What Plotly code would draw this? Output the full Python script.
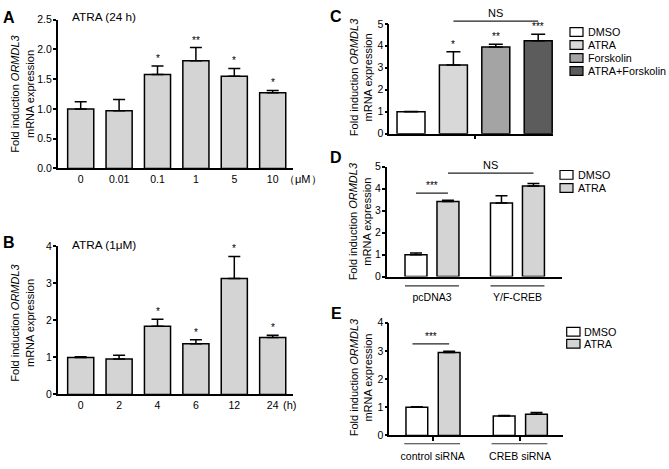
import plotly.graph_objects as go

# ---------------- data ----------------
a_cats = ["0", "0.01", "0.1", "1", "5", "10"]
a_vals = [1.00, 0.97, 1.58, 1.81, 1.55, 1.27]
a_errs = [0.12, 0.19, 0.14, 0.22, 0.13, 0.04]
a_sig = ["", "", "*", "**", "*", "*"]

b_cats = ["0", "2", "4", "6", "12", "24"]
b_vals = [1.00, 0.96, 1.84, 1.37, 3.13, 1.54]
b_errs = [0.02, 0.10, 0.19, 0.11, 0.60, 0.06]
b_sig = ["", "", "*", "*", "*", "*"]

c_names = ["DMSO", "ATRA", "Forskolin", "ATRA+Forskolin"]
c_vals = [1.00, 3.13, 3.95, 4.23]
c_errs = [0.01, 0.60, 0.12, 0.30]
c_sig = ["", "*", "**", "***"]

d_groups = ["pcDNA3", "Y/F-CREB"]
d_dmso = [1.00, 3.35]
d_dmso_err = [0.07, 0.33]
d_atra = [3.42, 4.12]
d_atra_err = [0.06, 0.12]

e_groups = ["control siRNA", "CREB siRNA"]
e_dmso = [1.00, 0.69]
e_dmso_err = [0.02, 0.02]
e_atra = [2.94, 0.75]
e_atra_err = [0.05, 0.06]

# ---------------- styles ----------------
W, H = 669, 469
FONT = "Liberation Sans, Arial, sans-serif"
INK = "black"
BAR_GREY = "#d4d4d4"
C_COLORS = ["#ffffff", "#d8d8d8", "#a4a4a4", "#5c5c5c"]
LW = 1.5


def px_x(p):
    return p / W


def px_y(p):
    return 1 - p / H


def F(size):
    return dict(family=FONT, size=size, color=INK)


def bar(x, y, err, xa, ya, color, width, offset=None, ew=6):
    return go.Bar(
        x=x, y=y, xaxis=xa, yaxis=ya, width=width, offset=offset,
        marker=dict(color=color, line=dict(color="black", width=LW)),
        error_y=dict(type="data", array=err, arrayminus=[0] * len(err),
                     symmetric=False, color="black", thickness=LW, width=ew),
        showlegend=False, hoverinfo="skip",
    )


fig = go.Figure()

# Panel A
fig.add_trace(bar(list(range(len(a_cats))), a_vals, a_errs, "x", "y", BAR_GREY, 0.68))
# Panel B
fig.add_trace(bar(list(range(len(b_cats))), b_vals, b_errs, "x2", "y2", BAR_GREY, 0.68))
# Panel C
fig.add_trace(bar(list(range(len(c_names))), c_vals, c_errs, "x3", "y3", C_COLORS, 0.66, ew=7))
# Panel D
D_W, D_OFF_DMSO, D_OFF_ATRA = 0.257, -0.316, 0.058
fig.add_trace(bar([0, 1], d_dmso, d_dmso_err, "x4", "y4", "white", D_W, D_OFF_DMSO, ew=6))
fig.add_trace(bar([0, 1], d_atra, d_atra_err, "x4", "y4", BAR_GREY, D_W, D_OFF_ATRA, ew=6))
# Panel E
E_W, E_OFF_DMSO, E_OFF_ATRA = 0.249, -0.306, 0.064
fig.add_trace(bar([0, 1], e_dmso, e_dmso_err, "x5", "y5", "white", E_W, E_OFF_DMSO, ew=6))
fig.add_trace(bar([0, 1], e_atra, e_atra_err, "x5", "y5", BAR_GREY, E_W, E_OFF_ATRA, ew=6))

axis_common = dict(showline=True, linecolor="black", linewidth=LW, showgrid=False,
                   zeroline=False, tickfont=F(10.5), tickcolor="black", fixedrange=True)
yax_common = dict(ticks="outside", ticklen=3, tickwidth=LW, ticklabelstandoff=-1,
                  **axis_common)

layout = dict(
    width=W, height=H, margin=dict(l=0, r=0, t=0, b=0),
    paper_bgcolor="white", plot_bgcolor="rgba(0,0,0,0)",
    barmode="overlay", showlegend=False,
    font=F(11),
    # A
    xaxis=dict(domain=[px_x(57.7), px_x(292.7)], range=[-0.599, 5.521], anchor="y",
               tickvals=list(range(len(a_cats))), ticktext=a_cats, ticks="", **axis_common),
    yaxis=dict(domain=[px_y(166.7), px_y(14)], range=[0, 2.5], dtick=0.5, tickformat=".1f",
               anchor="x", **yax_common),
    # B
    xaxis2=dict(domain=[px_x(57.7), px_x(292.7)], range=[-0.599, 5.521], anchor="y2",
                tickvals=list(range(len(b_cats))), ticktext=b_cats, ticks="", **axis_common),
    yaxis2=dict(domain=[px_y(398.7), px_y(246.7)], range=[0, 4], dtick=1,
                anchor="x2", **yax_common),
    # C
    xaxis3=dict(domain=[px_x(389.3), px_x(553)], range=[-0.512, 3.349], anchor="y3",
                tickvals=[1.5], ticktext=[""], ticks="outside", ticklen=4, tickwidth=LW,
                **axis_common),
    yaxis3=dict(domain=[px_y(131), px_y(18.3)], range=[0, 5], dtick=1,
                anchor="x3", **yax_common),
    # D
    xaxis4=dict(domain=[px_x(386.7), px_x(561.7)], range=[-0.53, 1.517], anchor="y4",
                tickvals=[0, 1], ticktext=d_groups, ticks="", ticklabelstandoff=10,
                **axis_common),
    yaxis4=dict(domain=[px_y(277.7), px_y(165)], range=[0, 5], dtick=1,
                anchor="x4", **yax_common),
    # E
    xaxis5=dict(domain=[px_x(389.3), px_x(562.7)], range=[-0.497, 1.489], anchor="y5",
                tickvals=[0, 1], ticktext=e_groups, ticks="outside", ticklen=4,
                tickwidth=LW, ticklabelstandoff=6, **axis_common),
    yaxis5=dict(domain=[px_y(440.7), px_y(325)], range=[0, 4], dtick=1,
                anchor="x5", **yax_common),
)
fig.update_layout(**layout)

ann = []
shapes = []

# panel letters
for letter, (lx, ly) in {"A": (8.5, 11.7), "B": (9, 243), "C": (335.5, 11),
                         "D": (335.7, 155.7), "E": (336, 316)}.items():
    ann.append(dict(text=f"<b>{letter}</b>", x=px_x(lx), y=px_y(ly), xref="paper", yref="paper",
                    xanchor="center", yanchor="middle", showarrow=False, font=F(16)))

# panel titles
ann.append(dict(text="ATRA (24 h)", x=px_x(70), y=px_y(11), xref="paper", yref="paper",
                xanchor="left", yanchor="middle", showarrow=False, font=F(11.8)))
ann.append(dict(text="ATRA (1μM)", x=px_x(70), y=px_y(245), xref="paper", yref="paper",
                xanchor="left", yanchor="middle", showarrow=False, font=F(11.8)))
# unit labels
ann.append(dict(text="（μM）", x=px_x(282), y=px_y(177.5), xref="paper", yref="paper",
                xanchor="left", yanchor="middle", showarrow=False, font=F(11)))
ann.append(dict(text="(h)", x=px_x(281), y=px_y(409), xref="paper", yref="paper",
                xanchor="left", yanchor="middle", showarrow=False, font=F(11)))

# y axis titles
ytitle = "Fold induction <i>ORMDL3</i><br>mRNA expression"
for (tx, ty) in [(22, 90), (22, 325), (361, 73), (360, 221), (361, 381)]:
    ann.append(dict(text=ytitle, x=px_x(tx), y=px_y(ty), xref="paper", yref="paper",
                    xanchor="center", yanchor="middle", showarrow=False, textangle=-90,
                    font=F(11)))

# significance asterisks above bars
for xa, ya, vals, errs, sig in [("x", "y", a_vals, a_errs, a_sig),
                                 ("x2", "y2", b_vals, b_errs, b_sig),
                                 ("x3", "y3", c_vals, c_errs, c_sig)]:
    for i, (v, e, s) in enumerate(zip(vals, errs, sig)):
        if s:
            ann.append(dict(text=s, x=i, y=v + e, xref=xa, yref=ya, xanchor="center",
                            yanchor="bottom", showarrow=False, yshift=0, font=F(10)))


def bracket(xa, ydom, x0, x1, frac, label, fs=11):
    shapes.append(dict(type="line", xref=xa, yref=ydom, x0=x0, x1=x1, y0=frac, y1=frac,
                       opacity=1, line=dict(color="#222222", width=1.2)))
    ann.append(dict(text=label, x=(x0 + x1) / 2, y=frac, xref=xa, yref=ydom,
                    xanchor="center", yanchor="bottom", showarrow=False, yshift=0,
                    font=F(fs)))


# C: NS bracket between ATRA and ATRA+Forskolin
bracket("x3", "y3 domain", 1, 3, 5.12 / 5, "NS", 11)
# D brackets
d_dmso_c = D_OFF_DMSO + D_W / 2
d_atra_c = D_OFF_ATRA + D_W / 2
bracket("x4", "y4 domain", 0 + d_dmso_c, 0 + d_atra_c, 3.80 / 5, "***", 10)
bracket("x4", "y4 domain", 0 + d_atra_c, 1 + d_atra_c, 4.71 / 5, "NS", 11)
# E bracket
e_dmso_c = E_OFF_DMSO + E_W / 2
e_atra_c = E_OFF_ATRA + E_W / 2
bracket("x5", "y5 domain", e_dmso_c - 0.05, e_atra_c, 3.25 / 4, "***", 10)

# group underlines
for g in range(2):
    shapes.append(dict(type="line", xref="x4", yref="y4 domain", opacity=1,
                       x0=g + D_OFF_DMSO, x1=g + D_OFF_ATRA + D_W, y0=-0.085, y1=-0.085,
                       line=dict(color="#333333", width=1.2)))
    shapes.append(dict(type="line", xref="x5", yref="y5 domain", opacity=1,
                       x0=g + E_OFF_DMSO - 0.02, x1=g + E_OFF_ATRA + E_W, y0=-0.074, y1=-0.074,
                       line=dict(color="#333333", width=1.2)))


# legends (swatch + label)
def legend(x0, x1, ycenters, names, colors, tx):
    for yc, nm, col in zip(ycenters, names, colors):
        shapes.append(dict(type="rect", xref="paper", yref="paper", opacity=1,
                           x0=px_x(x0), x1=px_x(x1), y0=px_y(yc + 4.5), y1=px_y(yc - 4.5),
                           fillcolor=col, line=dict(color="black", width=1.2)))
        ann.append(dict(text=nm, x=px_x(tx - 1), y=px_y(yc), xref="paper", yref="paper",
                        xanchor="left", yanchor="middle", showarrow=False, font=F(10.8)))


legend(570, 583, [26.7, 40, 53.3, 66.7], c_names, C_COLORS, 587)
legend(560, 573, [173.3, 186.7], ["DMSO", "ATRA"], ["white", BAR_GREY], 577)
legend(566.7, 580, [334.3, 346.7], ["DMSO", "ATRA"], ["white", BAR_GREY], 583)

fig.update_layout(annotations=ann, shapes=shapes)
fig.write_html("out.html", config={"displayModeBar": False},
               post_script="document.body.style.margin='0px';"
                           "document.body.style.overflow='hidden';")
